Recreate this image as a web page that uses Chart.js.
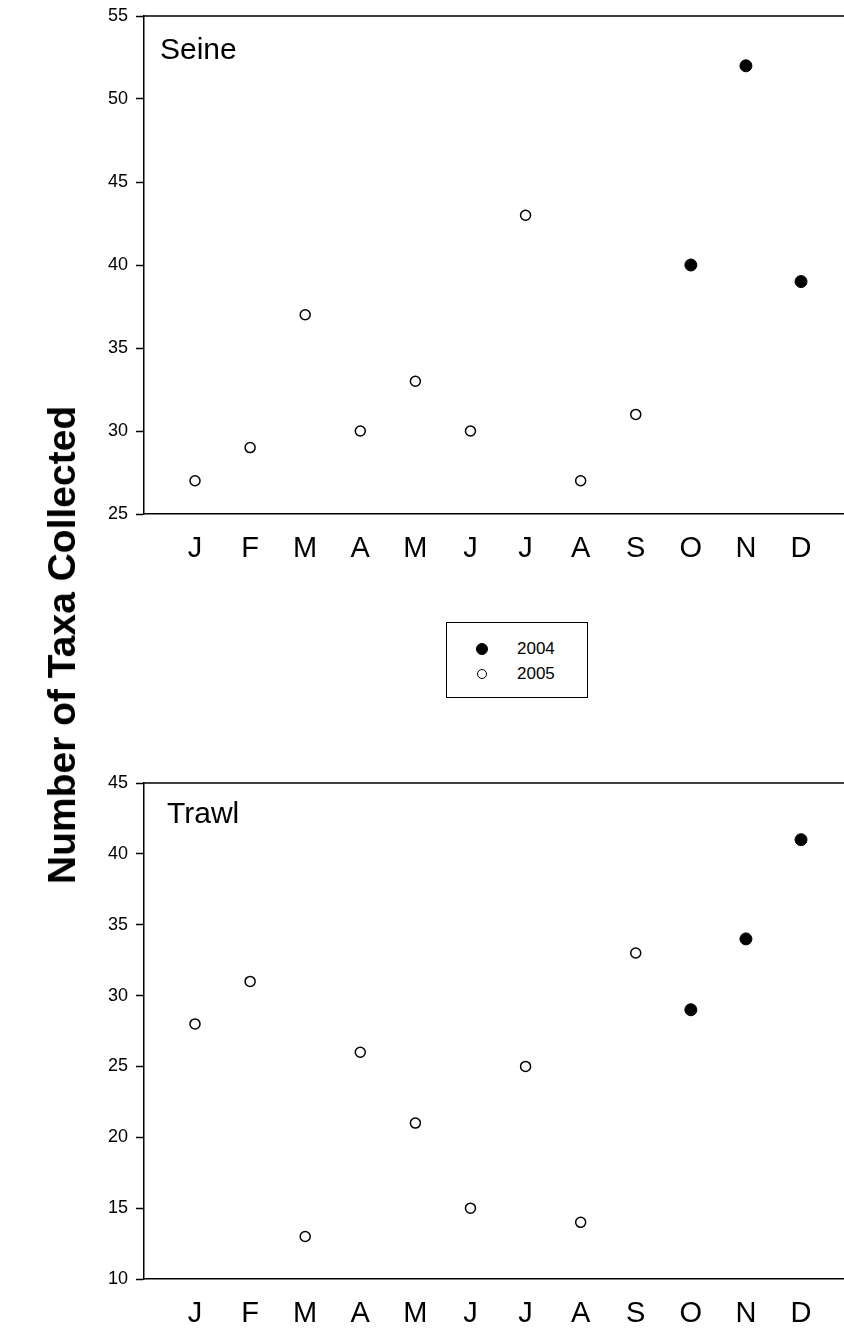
<!DOCTYPE html>
<html>
<head>
<meta charset="utf-8">
<script src="https://cdn.jsdelivr.net/npm/chart.js@4.4.0/dist/chart.umd.min.js"></script>
<style>
  html, body { margin: 0; padding: 0; background: #fff; }
  body { width: 844px; height: 1331px; position: relative; overflow: hidden; font-family: "Liberation Sans", Arial, sans-serif; }
  .panel { position: absolute; left: 0; }
  #seineBox { top: 0; }
  #trawlBox { top: 700px; }
  #yTitle { position: absolute; left: 62px; top: 645px; transform: translate(-50%, -50%) rotate(-90deg); font-weight: bold; font-size: 39px; white-space: nowrap; color: #000; }
  #legend { position: absolute; left: 446px; top: 622px; width: 142px; height: 76px; border: 1px solid #000; box-sizing: border-box; font-size: 17px; color: #000; }
  .legend-row { position: absolute; left: 0; height: 20px; line-height: 20px; }
  .legend-mark { position: absolute; box-sizing: border-box; border-radius: 50%; border: 1.5px solid #000; }
  .legend-text { position: absolute; left: 70px; white-space: nowrap; }
</style>
</head>
<body>
<div class="panel" id="seineBox"><canvas id="seineChart" width="844" height="600"></canvas></div>
<div class="panel" id="trawlBox"><canvas id="trawlChart" width="844" height="631"></canvas></div>
<div id="yTitle">Number of Taxa Collected</div>
<div id="legend"></div>

<script>
// Month labels along the x axis
const months = ['J', 'F', 'M', 'A', 'M', 'J', 'J', 'A', 'S', 'O', 'N', 'D'];

// Seine catches (null = no sample that year)
const seine2004 = [null, null, null, null, null, null, null, null, null, 40, 52, 39];
const seine2005 = [27, 29, 37, 30, 33, 30, 43, 27, 31, null, null, null];

// Trawl catches
const trawl2004 = [null, null, null, null, null, null, null, null, null, 29, 34, 41];
const trawl2005 = [28, 31, 13, 26, 21, 15, 25, 14, 33, null, null, null];

// Y tick ranges
const seineTicks = [25, 30, 35, 40, 45, 50, 55];
const trawlTicks = [10, 15, 20, 25, 30, 35, 40, 45];

const FONT = '"Liberation Sans", Arial, sans-serif';

function toPoints(values) {
  const pts = [];
  values.forEach((v, i) => {
    if (v !== null) pts.push({ x: i + 1, y: v });
  });
  return pts;
}

// Draws the top frame line and the panel name
const panelDecor = {
  id: 'panelDecor',
  afterDraw(chart, args, opts) {
    const ctx = chart.ctx;
    const area = chart.chartArea;
    ctx.save();
    ctx.strokeStyle = '#000';
    ctx.lineWidth = 1.5;
    ctx.beginPath();
    ctx.moveTo(area.left, area.top);
    ctx.lineTo(area.right, area.top);
    ctx.stroke();
    ctx.fillStyle = '#000';
    ctx.font = '30px ' + FONT;
    ctx.textBaseline = 'alphabetic';
    ctx.textAlign = 'left';
    ctx.fillText(opts.title, area.left + opts.dx, area.top + opts.dy);
    ctx.restore();
  }
};

function makeChart(canvasId, title, data2004, data2005, ticks, padTop, xAxisHeight, dx, dy) {
  const ctx = document.getElementById(canvasId).getContext('2d');
  return new Chart(ctx, {
    type: 'scatter',
    data: {
      datasets: [{
        label: '2004',
        data: toPoints(data2004),
        pointRadius: 6,
        pointBackgroundColor: '#000',
        pointBorderColor: '#000',
        pointBorderWidth: 1
      }, {
        label: '2005',
        data: toPoints(data2005),
        pointRadius: 5,
        pointBackgroundColor: '#fff',
        pointBorderColor: '#000',
        pointBorderWidth: 1.5
      }]
    },
    options: {
      responsive: false,
      animation: false,
      devicePixelRatio: 1,
      events: [],
      layout: { autoPadding: false, padding: { top: padTop, left: 0, right: 0, bottom: 0 } },
      plugins: {
        legend: { display: false },
        tooltip: { enabled: false },
        panelDecor: { title: title, dx: dx, dy: dy }
      },
      scales: {
        x: {
          type: 'linear',
          min: 0.074,
          max: 12.78,
          afterBuildTicks: scale => {
            scale.ticks = months.map((m, i) => ({ value: i + 1 }));
          },
          afterFit: scale => {
            scale.height = xAxisHeight;
            scale.paddingLeft = 0;
            scale.paddingRight = 0;
          },
          ticks: {
            callback: value => months[value - 1] || '',
            font: { family: FONT, size: 29 },
            color: '#000',
            padding: 18,
            maxRotation: 0,
            autoSkip: false
          },
          grid: { display: true, drawOnChartArea: false, drawTicks: false },
          border: { display: true, color: '#000', width: 1.5 }
        },
        y: {
          min: ticks[0],
          max: ticks[ticks.length - 1],
          afterBuildTicks: scale => {
            scale.ticks = ticks.map(v => ({ value: v }));
          },
          afterFit: scale => {
            scale.width = 144;
            scale.paddingTop = 0;
            scale.paddingBottom = 0;
          },
          ticks: {
            font: { family: FONT, size: 18 },
            color: '#000',
            padding: 8
          },
          grid: {
            drawOnChartArea: false,
            drawTicks: true,
            tickLength: 8,
            tickWidth: 1.5,
            tickColor: '#000'
          },
          border: { display: true, color: '#000', width: 1.5 }
        }
      }
    },
    plugins: [panelDecor]
  });
}

// Build the shared legend box from a chart's datasets
function buildLegend(chart) {
  const box = document.getElementById('legend');
  const rowTops = [16, 41];
  chart.data.datasets.forEach((ds, i) => {
    const row = document.createElement('div');
    row.className = 'legend-row';
    row.style.top = rowTops[i] + 'px';
    const mark = document.createElement('span');
    mark.className = 'legend-mark';
    const d = ds.pointRadius * 2;
    mark.style.width = d + 'px';
    mark.style.height = d + 'px';
    mark.style.left = (35 - ds.pointRadius) + 'px';
    mark.style.top = (10 - ds.pointRadius) + 'px';
    mark.style.background = ds.pointBackgroundColor;
    const text = document.createElement('span');
    text.className = 'legend-text';
    text.textContent = ds.label;
    row.appendChild(mark);
    row.appendChild(text);
    box.appendChild(row);
  });
}

document.addEventListener('DOMContentLoaded', function() {
  const seine = makeChart('seineChart', 'Seine', seine2004, seine2005, seineTicks, 16, 86, 16, 43);
  makeChart('trawlChart', 'Trawl', trawl2004, trawl2005, trawlTicks, 83, 52, 23, 40);
  buildLegend(seine);
});
</script>
</body>
</html>
